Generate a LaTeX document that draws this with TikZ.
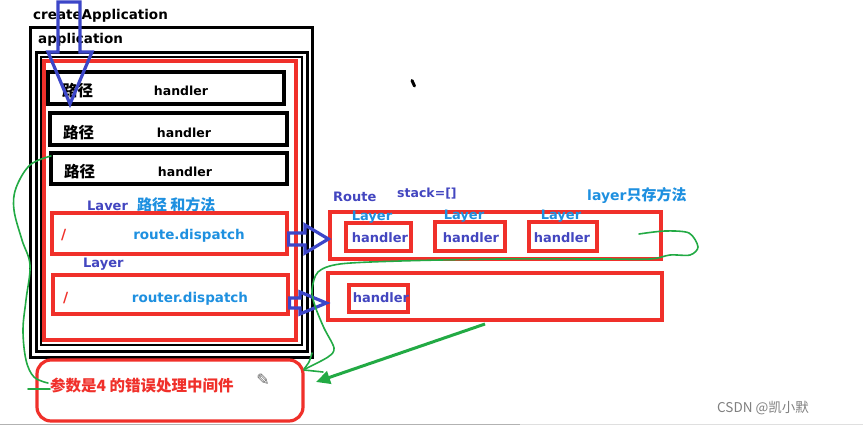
\documentclass[tikz,border=0pt]{standalone}
\usepackage{fontspec}
\setmainfont{DejaVu Sans}
\newfontfamily\cjk{Noto Sans CJK SC}
\usetikzlibrary{fit,arrows.meta}
\definecolor{myred}{HTML}{F0302A}
\definecolor{myblue}{HTML}{3C46C8}
\definecolor{txtblue}{HTML}{4346C0}
\definecolor{ltblue}{HTML}{1E90E0}
\definecolor{mygreen}{HTML}{22AA44}
\begin{document}
\begin{tikzpicture}[x=1pt,y=-1pt,
  blk/.style={draw=black, line width=3.6pt, inner sep=0pt},
  frm/.style={draw=black, line width=3pt, inner sep=0pt},
  rbox/.style={draw=myred, line width=3.2pt, inner sep=0pt},
  lbl/.style={inner sep=0pt, font=\bfseries\fontsize{13}{13}\selectfont},
  cjkl/.style={inner sep=0pt, font=\cjk\bfseries\fontsize{15.5}{15.5}\selectfont},
  barrow/.style={draw=myblue, line width=3.2pt, line join=miter},
  gline/.style={draw=mygreen, line width=1.6pt, line cap=round}
]
\useasboundingbox (0,0) rectangle (863,425);
\fill[white] (0,0) rectangle (863,425);
\draw[gray!60, line width=1pt] (0,424.5) -- (520,424.5);
\draw[gray!25, line width=1pt] (520,424.5) -- (863,424.5);

% outer frames
\node[frm, fit={(30,28)(312,357)}] (outer) {};
\node[frm, fit={(36,53)(307,351)}] (app) {};
\node[frm, line width=2.4pt, fit={(41,57)(302,345)}] (inner) {};
\node[rbox, fit={(44,61)(296,340)}] (router) {};
\node[lbl, anchor=west, font=\bfseries\fontsize{13.5}{13.5}\selectfont] (tca) at (33,16) {createApplication};
\node[lbl, anchor=west, font=\bfseries\fontsize{13.5}{13.5}\selectfont] (tapp) at (38,40) {application};

% black rows
\node[blk, fit={(48,72)(284,104)}] (b1) {};
\node[blk, fit={(50,113)(287,145)}] (b2) {};
\node[blk, fit={(51,153)(287,184)}] (b3) {};
\node[cjkl, anchor=west] (p1) at (62,91) {路径};
\node[cjkl, anchor=west] (p2) at (63,133) {路径};
\node[cjkl, anchor=west] (p3) at (64,172) {路径};
\node[lbl, font=\bfseries\fontsize{12.5}{12.5}\selectfont] (h1) at (181,91) {handler};
\node[lbl, font=\bfseries\fontsize{12.5}{12.5}\selectfont] (h2) at (184,133) {handler};
\node[lbl, font=\bfseries\fontsize{12.5}{12.5}\selectfont] (h3) at (185,172) {handler};

% layers
\node[lbl, anchor=west, text=txtblue] (lv1) at (87,205) {Laver\ \ {\cjk\fontsize{15}{15}\selectfont\color{ltblue}路径 和方法}};
\node[rbox, fit={(52,213)(287,254)}] (r4) {};
\node[lbl, anchor=west, text=myred, font=\bfseries\fontsize{14}{14}\selectfont] (s4) at (61,235) {/};
\node[lbl, text=ltblue, font=\bfseries\fontsize{13.5}{13.5}\selectfont] (rd) at (189,236) {route.dispatch};
\node[lbl, anchor=west, text=txtblue] (lv2) at (83,264) {Layer};
\node[rbox, fit={(53,275)(288,314)}] (r5) {};
\node[lbl, anchor=west, text=myred, font=\bfseries\fontsize{14}{14}\selectfont] (s5) at (63,298) {/};
\node[lbl, text=ltblue, font=\bfseries\fontsize{13.5}{13.5}\selectfont] (rrd) at (190,299) {router.dispatch};

% error middleware
\node[draw=myred, line width=3.2pt, rounded corners=14pt, inner sep=0pt, fit={(37,360)(303,421)}] (err) {};
\node[cjkl, anchor=west, text=myred, font=\cjk\bfseries\fontsize{15.5}{15.5}\selectfont] (errt) at (50,386) {参数是4 的错误处理中间件};
\node[inner sep=0pt, text=gray!80!black, font=\fontsize{16}{16}\selectfont] (pen) at (263,380) {✎};

% right side
\node[lbl, anchor=west, text=txtblue] (rt) at (333,197) {Route};
\node[lbl, anchor=west, text=txtblue, font=\bfseries\fontsize{12.5}{12.5}\selectfont] (stk) at (397,194) {stack=[]};
\node[lbl, anchor=west, text=ltblue, font=\bfseries\fontsize{14}{14}\selectfont] (lsf) at (587,195) {layer{\cjk\fontsize{15}{15}\selectfont 只存方法}};
\node[rbox, fit={(330,212)(661,259)}] (rt1) {};
\node[rbox, fit={(346,223)(411,251)}] (hb1) {};
\node[rbox, fit={(435,222)(505,251)}] (hb2) {};
\node[rbox, fit={(529,222)(597,251)}] (hb3) {};
\node[lbl, text=txtblue] at (380,238) {handler};
\node[lbl, text=txtblue] at (471,238) {handler};
\node[lbl, text=txtblue] at (562,238) {handler};
\node[lbl, text=ltblue] (ly1) at (372,217) {Layer};
\node[lbl, text=ltblue] (ly2) at (464,216) {Layer};
\node[lbl, text=ltblue] (ly3) at (561,216) {Layer};
\node[rbox, fit={(328,273)(662,320)}] (rt2) {};
\node[rbox, fit={(349,285)(408,312)}] (hb4) {};
\node[lbl, text=txtblue] at (381,298) {handler};

% tick mark
\draw[black, line width=3pt, line cap=round] (412,80.5) -- (414.5,86);

% blue hollow arrows
\draw[barrow] (58,2) -- (80,2) -- (80,52) -- (92,52) -- (70,104) -- (48,52) -- (58,52) -- cycle;
\draw[barrow] (r4.east |- 0,233) -- (305,233) -- (305,225) -- (rt1.west |- 0,239) -- (305,253) -- (305,245) -- (r4.east |- 0,245) -- cycle;
\draw[barrow] (r5.east |- 0,298) -- (300,298) -- (300,292) -- (rt2.west |- 0,303) -- (300,314) -- (300,308) -- (r5.east |- 0,308) -- cycle;

% green strokes
\draw[gline] plot[smooth, tension=0.6] coordinates {(51,156) (30,165) (16,188) (14,210) (22,240) (30,265) (26,300) (23,330) (26,360) (34,377) (48,383)};
\draw[gline] (28,389) -- (50,389);
\draw[gline] plot[smooth, tension=0.5] coordinates {(639,234) (665,231) (689,233) (698,247) (690,255) (670,255) (650,259) (600,259) (500,259) (400,261) (340,264) (318,272) (312,290) (315,306) (324,328) (334,348) (328,357) (305,369)};
\draw[gline] plot[smooth, tension=0.5] coordinates {(312,353) (309,362) (304,369)};
\draw[gline] (304,370) -- (323,372);
\coordinate (gs) at (485,324);
\draw[draw=mygreen, line width=3pt, -{Triangle[length=14pt, width=13pt]}] (gs) -- (316,382);

% watermark
\node[inner sep=0pt, anchor=west, text=gray, font=\cjk\fontsize{13.5}{13.5}\selectfont] (wm) at (717,408) {CSDN @凯小默};
\end{tikzpicture}
\end{document}
